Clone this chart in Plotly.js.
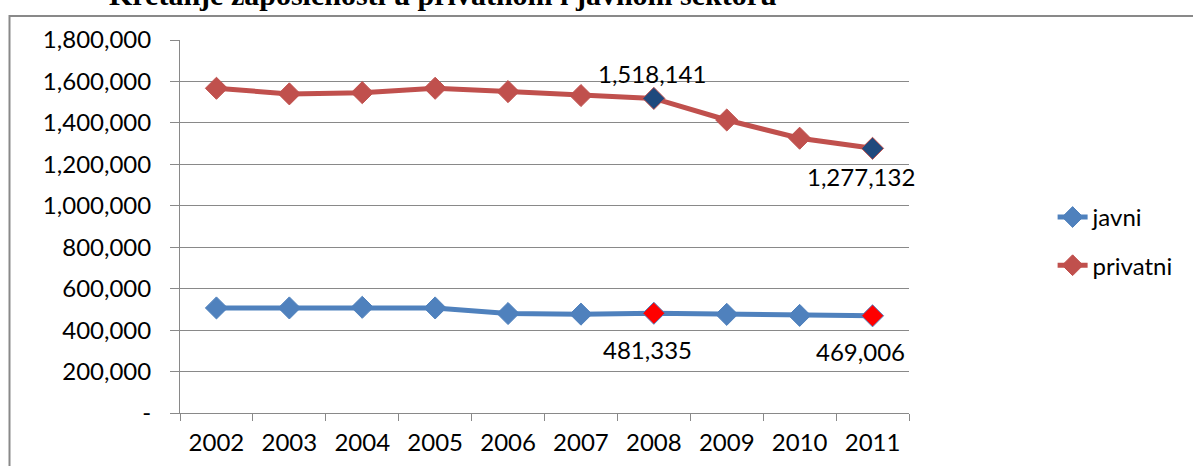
<!DOCTYPE html>
<html>
<head>
<meta charset="utf-8">
<script src="https://cdn.plot.ly/plotly-3.0.1.min.js"></script>
<style>
html,body{margin:0;padding:0;background:#fff;}
#chart{width:1193px;height:466px;}
</style>
</head>
<body>
<div id="chart"></div>
<script>
// ---- data ----
const years = ['2002','2003','2004','2005','2006','2007','2008','2009','2010','2011'];
const javni = [507000, 507000, 510000, 507000, 480000, 477000, 481335, 476000, 471000, 469006];
const privatni = [1567000, 1540000, 1546000, 1567000, 1551000, 1532000, 1518141, 1414000, 1326000, 1277132];
const labeledIdx = [6, 9];
const yTickVals = [0, 200000, 400000, 600000, 800000, 1000000, 1200000, 1400000, 1600000, 1800000];
const yTickText = ['-', '200,000', '400,000', '600,000', '800,000', '1,000,000', '1,200,000', '1,400,000', '1,600,000', '1,800,000'];
const titleText = 'Kretanje zaposlenosti u privatnom i javnom sektoru';

// ---- styles ----
const BLUE = '#4F81BD', RED = '#C0504D', DARKBLUE = '#1F497D', HOTRED = '#FF0000';
const GRID = '#898989';
const FONT = 'Lato, Carlito, Calibri, sans-serif';
const FS = 24;

function colorsFor(base, hi) {
  return years.map((_, i) => labeledIdx.includes(i) ? hi : base);
}

const traces = [
  {
    x: years, y: javni, name: 'javni', type: 'scatter', mode: 'lines+markers',
    line: {color: BLUE, width: 5},
    marker: {symbol: 'diamond', size: 17, color: colorsFor(BLUE, HOTRED), line: {color: BLUE, width: 1}},
    legendgroup: 'a'
  },
  {
    x: years, y: privatni, name: 'privatni', type: 'scatter', mode: 'lines+markers',
    line: {color: RED, width: 5},
    marker: {symbol: 'diamond', size: 17, color: colorsFor(RED, DARKBLUE), line: {color: RED, width: 1}},
    legendgroup: 'b'
  }
];

const fmt = v => v.toLocaleString('en-US');
const annotations = [];
labeledIdx.forEach((i, k) => {
  annotations.push({
    x: i, y: privatni[i], xref: 'x', yref: 'y', text: fmt(privatni[i]),
    showarrow: false, font: {family: FONT, size: FS, color: '#000'},
    xshift: k === 0 ? -2 : -12, yshift: k === 0 ? 25 : -28
  });
  annotations.push({
    x: i, y: javni[i], xref: 'x', yref: 'y', text: fmt(javni[i]),
    showarrow: false, font: {family: FONT, size: FS, color: '#000'},
    xshift: k === 0 ? -6 : -12, yshift: -36
  });
});
annotations.push({
  xref: 'paper', yref: 'paper', x: 0.361, y: 1.072, xanchor: 'center', yanchor: 'bottom',
  text: '<b>' + titleText + '</b>', showarrow: false,
  font: {family: '"Liberation Serif", "Times New Roman", serif', size: 30, color: '#000'}
});

const layout = {
  width: 1193, height: 466,
  margin: {l: 180, r: 284, t: 40, b: 53},
  paper_bgcolor: '#fff', plot_bgcolor: '#fff',
  showlegend: true,
  legend: {
    x: 1.197, y: 0.46, xanchor: 'left', yanchor: 'middle',
    font: {family: FONT, size: FS, color: '#000'},
    traceorder: 'grouped', tracegroupgap: 14, bgcolor: 'rgba(0,0,0,0)'
  },
  xaxis: {
    type: 'category', range: [-0.5, 9.5], showgrid: false,
    showline: true, linecolor: GRID, linewidth: 1,
    ticks: 'outside', tickson: 'boundaries', ticklen: 7, tickcolor: GRID, tickwidth: 1,
    tickfont: {family: FONT, size: FS, color: '#000'}, ticklabelstandoff: 8,
    fixedrange: true
  },
  yaxis: {
    range: [0, 1800000], tickvals: yTickVals, ticktext: yTickText,
    showgrid: true, gridcolor: GRID, gridwidth: 1, zeroline: false,
    showline: true, linecolor: GRID, linewidth: 1,
    ticks: 'outside', ticklen: 9, tickcolor: GRID, tickwidth: 1,
    tickfont: {family: FONT, size: FS, color: '#000'}, ticklabelstandoff: 14,
    fixedrange: true
  },
  annotations: annotations,
  shapes: [{
    type: 'rect', xref: 'paper', yref: 'paper',
    x0: (9.5 - 180) / 729, x1: (1210 - 180) / 729,
    y0: (413 - 490) / 373, y1: (413 - 16) / 373,
    line: {color: GRID, width: 2}, fillcolor: 'rgba(0,0,0,0)', layer: 'below'
  }]
};

Plotly.newPlot('chart', traces, layout, {displayModeBar: false, staticPlot: true});
</script>
</body>
</html>
